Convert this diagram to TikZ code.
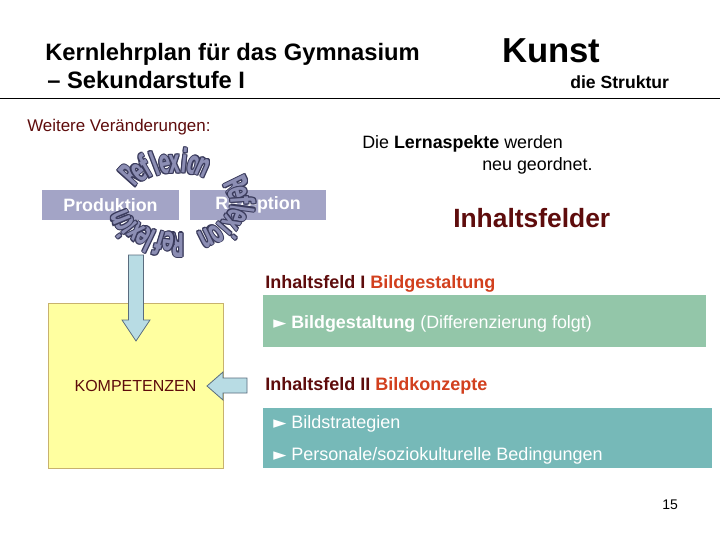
\documentclass[tikz,border=0pt]{standalone}
\usepackage{fontspec}
\setmainfont{Liberation Sans}
\newfontfamily\symfont{DejaVu Sans}
\newfontfamily\wordfont{DejaVu Sans Condensed}
\usetikzlibrary{positioning}
\definecolor{darkred}{HTML}{5E0C0C}
\definecolor{fieldred}{HTML}{D2401E}
\definecolor{rolefill}{HTML}{A3A4C6}
\definecolor{reflfill}{HTML}{8C8EB4}
\definecolor{reflline}{HTML}{3A3B5C}
\definecolor{kompfill}{HTML}{FFFFA0}
\definecolor{kompline}{HTML}{C8B26E}
\definecolor{feldgreen}{HTML}{93C6A9}
\definecolor{feldteal}{HTML}{76B9B8}
\definecolor{arrowfill}{HTML}{B8DCE4}
\definecolor{arrowline}{HTML}{5A6C7E}

% one dark copy of a letter, shifted
\newcommand{\outcopy}[3]{\makebox[0pt][l]{\textcolor{reflline}{\kern#1\raisebox{#2}{#3}}}}
\newcommand{\outlined}[1]{%
  \outcopy{-0.8pt}{0pt}{#1}\outcopy{0.8pt}{0pt}{#1}%
  \outcopy{0pt}{0.8pt}{#1}\outcopy{0pt}{-0.8pt}{#1}%
  \outcopy{-0.6pt}{0.6pt}{#1}\outcopy{0.6pt}{0.6pt}{#1}%
  \outcopy{-0.6pt}{-0.6pt}{#1}\outcopy{0.6pt}{-0.6pt}{#1}#1}
\newcommand{\pointer}{{\symfont\scalebox{0.95}{►}}}

\begin{document}
\begin{tikzpicture}[
    x=0.75pt, y=-0.75pt,
    lbl/.style={anchor=base west, inner sep=0pt, font=\fontsize{#1pt}{#1pt}\selectfont},
    blbl/.style={anchor=base west, inner sep=0pt, font=\bfseries\fontsize{#1pt}{#1pt}\selectfont},
    rolebox/.style={fill=rolefill, minimum width=#1, minimum height=22.5pt, inner sep=0pt, text=white, font=\bfseries\fontsize{13.4pt}{16pt}\selectfont},
    kompbox/.style={draw=kompline, line width=0.75pt, fill=kompfill, minimum width=131.25pt, minimum height=123.75pt, inner sep=0pt, text=darkred, font=\fontsize{12pt}{14pt}\selectfont},
    feldbox/.style={fill=#1, inner sep=0pt, minimum width=332.25pt},
    blockarrow/.style={draw=arrowline, line width=0.6pt, fill=arrowfill, line join=miter},
    refl/.style={anchor=base, inner sep=0pt, text=reflfill, font=\wordfont\bfseries\fontsize{19pt}{19pt}\selectfont},
]
    \useasboundingbox[fill=white] (0,0) rectangle (720,540);

    % Header
    \node[blbl=17.8] (title1) at (45,60) {Kernlehrplan für das Gymnasium};
    \node[blbl=17.8] (title2) at (47,88) {– Sekundarstufe I};
    \node[blbl=26] (subject) at (502,62) {Kunst};
    \node[blbl=13.2] (struct) at (570,88) {die Struktur};
    \draw[line width=0.75pt] (0,98) -- (720,98);

    % Left part
    \node[lbl=12.7, text=darkred] (changes) at (27,131) {Weitere Veränderungen:};
    \node[rolebox=102.75pt] (prod) at (110.5,205) {Produktion};
    \node[rolebox=102pt] (rezep) at (258,205) {Rezeption};

    % Reflexion around both boxes
    \foreach \st/\stp [count=\k] in {138/9, 26/11.2, -90/8.5} {
      \foreach \ch [count=\i from 0] in {R,e,f,l,e,x,i,o,n} {
        \pgfmathsetmacro\ang{\st-\stp*\i}
        \node[refl, rotate=\ang-90] (r\k\i) at ({178+53*cos(\ang)},{203-30*sin(\ang)}) {\outlined{\scalebox{0.76}[1.3]{\ch}}};
      }
    }

    \node[kompbox] (komp) at (135.5,385.5) {KOMPETENZEN};
    \draw[blockarrow] (128.5,255) -- (143.5,255) -- (143.5,320) -- (150,320) -- (136,341) -- (122,320) -- (128.5,320) -- cycle;
    \draw[blockarrow] (247,378) -- (247,393) -- (223,393) -- (223,400) -- (207,386) -- (223,372) -- (223,378) -- cycle;

    % Right part
    \node[lbl=13.4] (aspekte) at (362,148) {Die \textbf{Lernaspekte} werden};
    \node[lbl=13.4] (neu) at (482,170) {neu geordnet.};
    \node[blbl=19.8, text=darkred] (felder) at (453,227) {Inhaltsfelder};

    \node[blbl=13.5, text=darkred] (feld1) at (265,288) {Inhaltsfeld I \textcolor{fieldred}{Bildgestaltung}};
    \node[feldbox=feldgreen, minimum height=39pt] (feld1box) at (484.5,321) {};
    \node[lbl=13.4, text=white] (feld1txt) at (273,328) {\pointer\ \textbf{Bildgestaltung} (Differenzierung folgt)};

    \node[blbl=13.5, text=darkred] (feld2) at (265,390) {Inhaltsfeld II \textcolor{fieldred}{Bildkonzepte}};
    \node[feldbox=feldteal, minimum width=336.75pt, minimum height=45pt] (feld2box) at (487.5,438) {};
    \node[lbl=13.5, text=white] (feld2a) at (273,428) {\pointer\ Bildstrategien};
    \node[lbl=13.5, text=white] (feld2b) at (273,460) {\pointer\ Personale/soziokulturelle Bedingungen};

    \node[lbl=10.5] (page) at (662,509) {15};
\end{tikzpicture}
\end{document}
